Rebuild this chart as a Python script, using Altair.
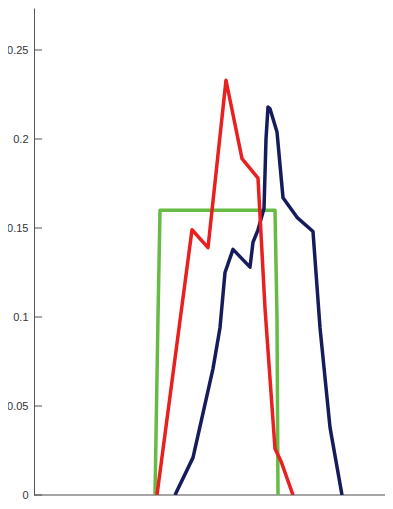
import altair as alt
import pandas as pd

# x positions in arbitrary horizontal units, y values
red_x = [123, 158, 174, 192, 208, 224, 231, 241, 247, 259]
red_y = [0.0, 0.149, 0.139, 0.233, 0.189, 0.178, 0.105, 0.026, 0.019, 0.0]

navy_x = [141, 159, 179, 186, 191, 199, 216, 219, 224, 230, 232, 234, 236, 243, 249, 263, 279, 286, 296, 308]
navy_y = [0.0, 0.021, 0.071, 0.094, 0.125, 0.138, 0.128, 0.142, 0.149, 0.161, 0.2, 0.218, 0.217, 0.204, 0.167, 0.156, 0.148, 0.094, 0.038, 0.0]

green_x = [121, 124, 126, 241, 243, 244]
green_y = [0.0, 0.1, 0.16, 0.16, 0.1, 0.0]

y_ticks = [0, 0.05, 0.1, 0.15, 0.2, 0.25]
y_max = 0.2736
x_max = 351
plot_h = 487

rows = []
for name, xs, ys in [("green", green_x, green_y), ("navy", navy_x, navy_y), ("red", red_x, red_y)]:
    for i, (a, b) in enumerate(zip(xs, ys)):
        rows.append({"series": name, "x": a, "y": b, "order": i})
df = pd.DataFrame(rows)
ticks_df = pd.DataFrame({"v": y_ticks})

xs = alt.Scale(domain=[0, x_max], nice=False, zero=False)
ys = alt.Scale(domain=[0, y_max], nice=False)

colors = {"green": "#66bb44", "navy": "#161b5c", "red": "#e8201f"}

layers = []
for name in ["green", "navy", "red"]:
    layers.append(
        alt.Chart(df[df.series == name]).mark_line(
            color=colors[name], strokeWidth=3.5, strokeJoin="round", clip=True
        ).encode(
            x=alt.X("x:Q", scale=xs, axis=None),
            y=alt.Y("y:Q", scale=ys, axis=alt.Axis(
                values=y_ticks, labelExpr="format(datum.value, '~g')",
                tickSize=0, labelPadding=6, grid=False, domain=True,
                domainColor="#555555", labelColor="#333333", labelFontSize=11,
                labelFont="Liberation Sans", title=None)),
            order="order:Q",
        )
    )

tick_marks = alt.Chart(ticks_df).mark_rule(color="#555555", strokeWidth=1).encode(
    y=alt.Y("v:Q", scale=ys),
    x=alt.value(0),
    x2=alt.value(8),
)

baseline = alt.Chart(ticks_df.head(1)).mark_rule(color="#4d4d4d", strokeWidth=1.2).encode(
    y=alt.value(plot_h), x=alt.value(0), x2=alt.value(x_max)
)

chart = alt.layer(baseline, tick_marks, *layers).properties(
    width=x_max, height=plot_h,
    autosize=alt.AutoSizeParams(type="none"),
    padding={"left": 26, "top": 0, "right": 0, "bottom": 6},
).configure(background="white").configure_view(stroke=None)

chart.save("out.html", embed_options={"renderer": "svg", "actions": False})
